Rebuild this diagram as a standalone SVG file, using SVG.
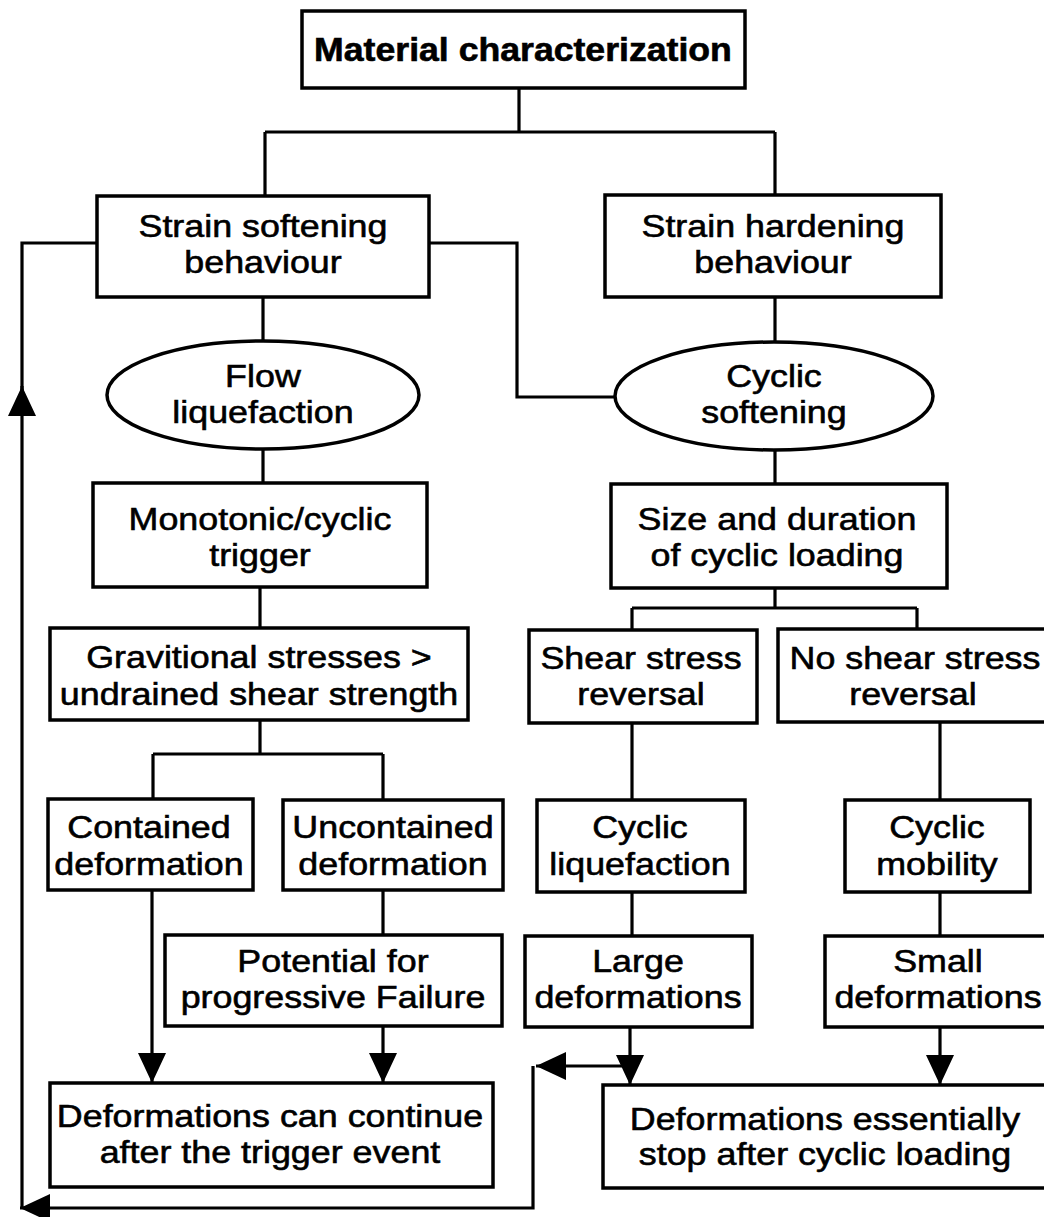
<svg xmlns="http://www.w3.org/2000/svg" width="1044" height="1217" viewBox="0 0 1044 1217">
<style>
.box{fill:#fff;stroke:#000;stroke-width:3.5}
.ln{fill:none;stroke:#000;stroke-width:3.2}
.t{font-family:"Liberation Sans",Arial,sans-serif;font-size:32px;fill:#000;stroke:#000;stroke-width:0.6;text-anchor:middle;transform-box:fill-box;transform-origin:center;transform:scaleX(1.12)}
.tb{font-family:"Liberation Sans",Arial,sans-serif;font-size:33px;font-weight:bold;fill:#000;stroke:#000;stroke-width:0.6;text-anchor:middle;transform-box:fill-box;transform-origin:center;transform:scaleX(1.08)}
</style>
<defs>
<marker id="ah" markerUnits="userSpaceOnUse" markerWidth="30" markerHeight="30" refX="30" refY="15" orient="auto" viewBox="0 0 30 30">
<path d="M0,1 L30,15 L0,29 z" fill="#000"/>
</marker>
</defs>
<rect width="1044" height="1217" fill="#fff"/>
<g id="connectors">
<path class="ln" d="M519,88 V132 M265,132 H775 M265,132 V196 M775,132 V195"/>
<path class="ln" d="M429,243 H517 V397 H616"/>
<path class="ln" d="M263,297 V341"/>
<path class="ln" d="M775,297 V342"/>
<path class="ln" d="M263,449 V483"/>
<path class="ln" d="M775,450 V484"/>
<path class="ln" d="M260,587 V628"/>
<path class="ln" d="M775,588 V608 M632,608 H917 M632,608 V630 M917,608 V630"/>
<path class="ln" d="M260,720 V754 M153,754 H383 M153,754 V799 M383,754 V800"/>
<path class="ln" d="M632,723 V800"/>
<path class="ln" d="M940,722 V800"/>
<path class="ln" d="M383,890 V935"/>
<path class="ln" d="M632,892 V936"/>
<path class="ln" d="M940,892 V936"/>
<path class="ln" d="M152,890 V1083" marker-end="url(#ah)"/>
<path class="ln" d="M383,1026 V1083" marker-end="url(#ah)"/>
<path class="ln" d="M630,1027 V1085" marker-end="url(#ah)"/>
<path class="ln" d="M940,1027 V1085" marker-end="url(#ah)"/>
<path class="ln" d="M630,1066 H536" marker-end="url(#ah)"/>
<path class="ln" d="M533,1066 V1208 H20" marker-end="url(#ah)"/>
<path class="ln" d="M22,1208 V386" marker-end="url(#ah)"/>
<path class="ln" d="M22,390 V243 H97"/>
</g>
<g id="n-material">
<rect class="box" x="302" y="11" width="443" height="77"/>
<text class="tb" x="523" y="61">Material characterization</text>
</g>
<g id="n-softening">
<rect class="box" x="97" y="196" width="332" height="101"/>
<text class="t" x="263" y="237">Strain softening</text>
<text class="t" x="263" y="273">behaviour</text>
</g>
<g id="n-hardening">
<rect class="box" x="605" y="195" width="336" height="102"/>
<text class="t" x="773" y="237">Strain hardening</text>
<text class="t" x="773" y="273">behaviour</text>
</g>
<g id="n-flow">
<ellipse class="box" cx="263" cy="395" rx="156" ry="54"/>
<text class="t" x="263" y="387">Flow</text>
<text class="t" x="263" y="423">liquefaction</text>
</g>
<g id="n-cyclicsoft">
<ellipse class="box" cx="774" cy="396" rx="159" ry="54"/>
<text class="t" x="774" y="387">Cyclic</text>
<text class="t" x="774" y="423">softening</text>
</g>
<g id="n-trigger">
<rect class="box" x="93" y="483" width="334" height="104"/>
<text class="t" x="260" y="530">Monotonic/cyclic</text>
<text class="t" x="260" y="566">trigger</text>
</g>
<g id="n-size">
<rect class="box" x="611" y="484" width="336" height="104"/>
<text class="t" x="777" y="530">Size and duration</text>
<text class="t" x="777" y="566">of cyclic loading</text>
</g>
<g id="n-grav">
<rect class="box" x="50" y="628" width="418" height="92"/>
<text class="t" x="259" y="668">Gravitional stresses &gt;</text>
<text class="t" x="259" y="705">undrained shear strength</text>
</g>
<g id="n-shear">
<rect class="box" x="529" y="630" width="228" height="93"/>
<text class="t" x="641" y="669">Shear stress</text>
<text class="t" x="641" y="705">reversal</text>
</g>
<g id="n-noshear">
<rect class="box" x="778" y="629" width="280" height="93"/>
<text class="t" x="915" y="669">No shear stress</text>
<text class="t" x="913" y="705">reversal</text>
</g>
<g id="n-contained">
<rect class="box" x="48" y="799" width="205" height="91"/>
<text class="t" x="149" y="838">Contained</text>
<text class="t" x="149" y="875">deformation</text>
</g>
<g id="n-uncontained">
<rect class="box" x="283" y="800" width="220" height="90"/>
<text class="t" x="393" y="838">Uncontained</text>
<text class="t" x="393" y="875">deformation</text>
</g>
<g id="n-cycliq">
<rect class="box" x="537" y="800" width="208" height="92"/>
<text class="t" x="640" y="838">Cyclic</text>
<text class="t" x="640" y="875">liquefaction</text>
</g>
<g id="n-cycmob">
<rect class="box" x="845" y="800" width="185" height="92"/>
<text class="t" x="937" y="838">Cyclic</text>
<text class="t" x="937" y="875">mobility</text>
</g>
<g id="n-potential">
<rect class="box" x="165" y="935" width="337" height="91"/>
<text class="t" x="333" y="972">Potential for</text>
<text class="t" x="333" y="1008">progressive Failure</text>
</g>
<g id="n-large">
<rect class="box" x="525" y="936" width="227" height="91"/>
<text class="t" x="638" y="972">Large</text>
<text class="t" x="638" y="1008">deformations</text>
</g>
<g id="n-small">
<rect class="box" x="825" y="936" width="240" height="91"/>
<text class="t" x="938" y="972">Small</text>
<text class="t" x="938" y="1008">deformations</text>
</g>
<g id="n-continue">
<rect class="box" x="50" y="1083" width="443" height="104"/>
<text class="t" x="270" y="1127">Deformations can continue</text>
<text class="t" x="270" y="1163">after the trigger event</text>
</g>
<g id="n-stop">
<rect class="box" x="603" y="1085" width="460" height="103"/>
<text class="t" x="825" y="1130">Deformations essentially</text>
<text class="t" x="825" y="1165">stop after cyclic loading</text>
</g>
</svg>
